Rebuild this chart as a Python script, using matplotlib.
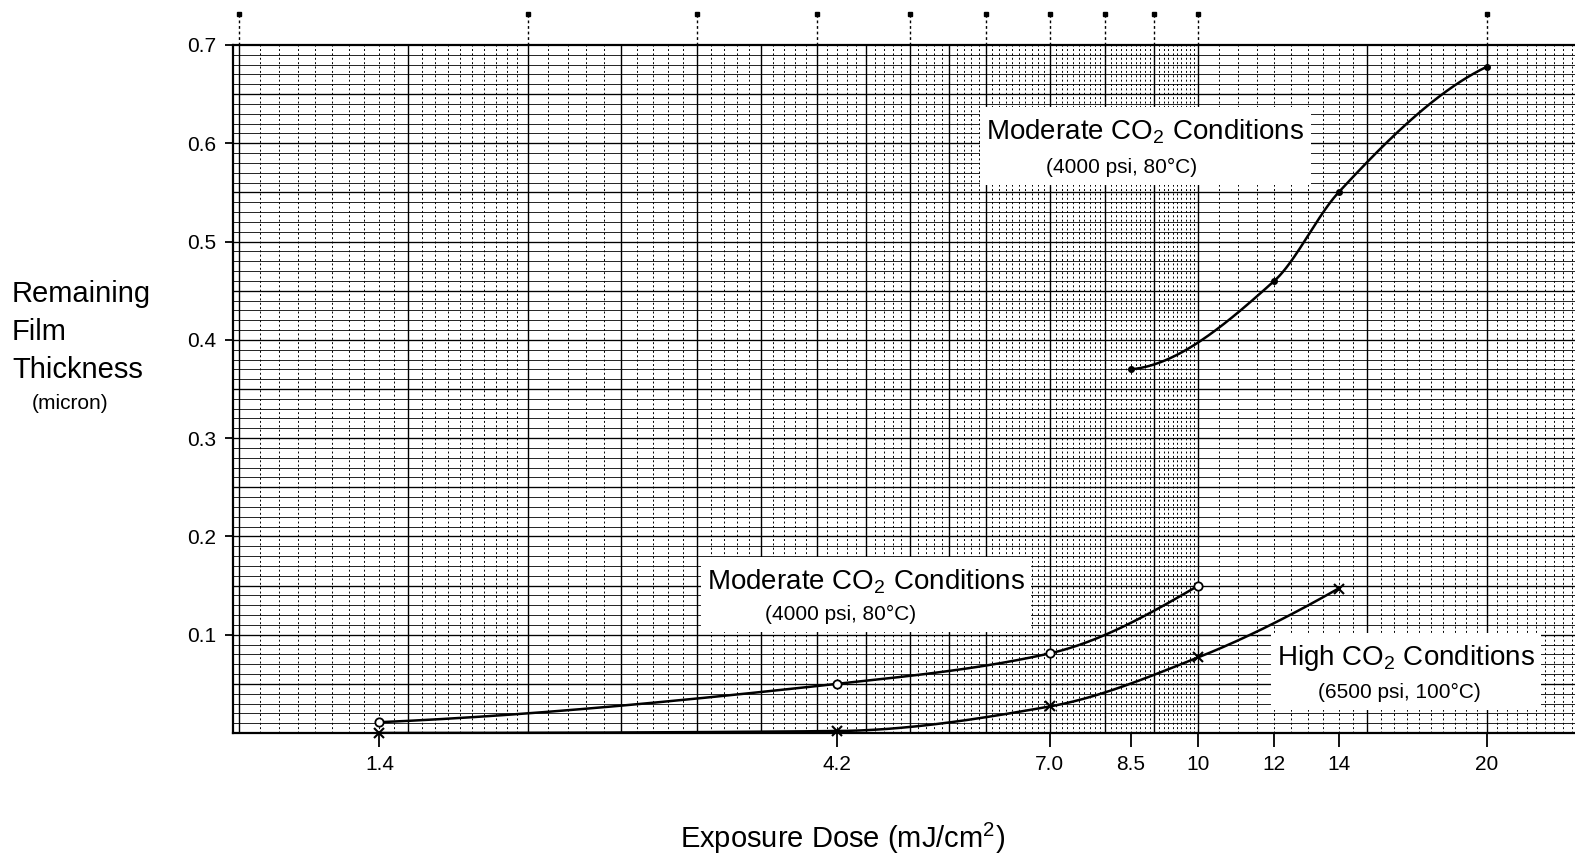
import numpy as np
import matplotlib
matplotlib.use("Agg")
import matplotlib.pyplot as plt
from matplotlib.transforms import blended_transform_factory, Bbox
from matplotlib.patches import Rectangle

plt.rcParams['font.family'] = ['Liberation Sans', 'DejaVu Sans']
plt.rcParams['mathtext.fontset'] = 'custom'
plt.rcParams['mathtext.rm'] = 'Liberation Sans'

# exposure dose (mJ/cm^2) vs remaining film thickness (micron)
mod_top_dose = [8.5, 12, 14, 20]
mod_top_thk = [0.37, 0.46, 0.55, 0.678]

mod_low_dose = [1.4, 4.2, 7.0, 10]
mod_low_thk = [0.011, 0.05, 0.081, 0.15]

high_dose = [1.4, 4.2, 7.0, 10, 14]
high_thk = [0.0, 0.002, 0.027, 0.077, 0.147]

xtick_vals = [1.4, 4.2, 7.0, 8.5, 10, 12, 14, 20]
xtick_labels = ['1.4', '4.2', '7.0', '8.5', '10', '12', '14', '20']
ytick_vals = [0.1, 0.2, 0.3, 0.4, 0.5, 0.6, 0.7]
cycle_marks = [1, 2, 3, 4, 5, 6, 7, 8, 9, 10, 20]


def smooth(xs, ys, n=300):
    # monotone cubic (pchip) through the points, in log-x
    lx = np.log10(np.asarray(xs, float))
    y = np.asarray(ys, float)
    h = np.diff(lx)
    d = np.diff(y) / h
    m = np.zeros_like(y)
    for i in range(1, len(y) - 1):
        if d[i - 1] * d[i] > 0:
            w1 = 2 * h[i] + h[i - 1]
            w2 = h[i] + 2 * h[i - 1]
            m[i] = (w1 + w2) / (w1 / d[i - 1] + w2 / d[i])
    m[0] = ((2 * h[0] + h[1]) * d[0] - h[0] * d[1]) / (h[0] + h[1])
    m[-1] = ((2 * h[-1] + h[-2]) * d[-1] - h[-1] * d[-2]) / (h[-1] + h[-2])
    if m[0] * d[0] <= 0:
        m[0] = 0
    if m[-1] * d[-1] <= 0:
        m[-1] = 0
    out_x, out_y = [], []
    t = np.linspace(0, 1, n)
    h00 = 2 * t**3 - 3 * t**2 + 1
    h10 = t**3 - 2 * t**2 + t
    h01 = -2 * t**3 + 3 * t**2
    h11 = t**3 - t**2
    for i in range(len(h)):
        yy = h00 * y[i] + h10 * h[i] * m[i] + h01 * y[i + 1] + h11 * h[i] * m[i + 1]
        out_x.append(10 ** (lx[i] + t * h[i]))
        out_y.append(yy)
    return np.concatenate(out_x), np.concatenate(out_y)


fig = plt.figure(figsize=(15.75, 8.61), dpi=100)
ax = fig.add_axes([233 / 1575, 1 - 733 / 861, (1575 - 233) / 1575, 688 / 861])
ax.set_xscale('log')
xmin, xmax = 0.985, 24.7
ax.set_xlim(xmin, xmax)
ax.set_ylim(0, 0.7)

# graph paper
hl = np.round(np.arange(0.01, 0.70, 0.01), 2)
ax.hlines(hl, xmin, xmax, colors='k', lw=0.6, zorder=1)
ax.hlines(hl[4::5], xmin, xmax, colors='k', lw=0.95, zorder=1)
minor = np.concatenate([np.arange(1.05, 2.0, 0.05), np.arange(2.1, 10.0, 0.1),
                        np.arange(10.5, xmax, 0.5)])
ax.vlines(minor, 0, 0.7, colors='k', lw=0.7, linestyles=(0, (2, 2.5)), zorder=1)
major = [1, 1.5, 2, 2.5, 3, 3.5, 4, 4.5, 5, 5.5, 6, 7, 8, 9, 10, 15, 20]
ax.vlines(major, 0, 0.7, colors='k', lw=1.0, zorder=1)

# cycle marks above the paper
trans = blended_transform_factory(ax.transData, ax.transAxes)
ax.vlines(cycle_marks, 1.0, 1.045, transform=trans, colors='k', lw=1.0,
          linestyles=(0, (2, 2)), clip_on=False)
ax.plot(cycle_marks, [1.045] * len(cycle_marks), 's', color='k', ms=2.5,
        transform=trans, clip_on=False)

# labels, each pair on one white patch
labels = [
    ((0.680, 0.874), 'Moderate CO$_2$ Conditions', (0.662, 0.822), '(4000 psi, 80°C)'),
    ((0.4716, 0.220), 'Moderate CO$_2$ Conditions', (0.4529, 0.173), '(4000 psi, 80°C)'),
    ((0.874, 0.109), 'High CO$_2$ Conditions', (0.869, 0.0596), '(6500 psi, 100°C)'),
]
pairs = []
for p1, s1, p2, s2 in labels:
    t1 = ax.text(*p1, s1, transform=ax.transAxes, ha='center', va='center',
                 fontsize=20, zorder=4)
    t2 = ax.text(*p2, s2, transform=ax.transAxes, ha='center', va='center',
                 fontsize=15, zorder=4)
    pairs.append((t1, t2))

fig.canvas.draw()
r = fig.canvas.get_renderer()
inv = ax.transAxes.inverted()
for t1, t2 in pairs:
    bb = Bbox.union([t1.get_window_extent(r), t2.get_window_extent(r)])
    bb = Bbox.from_extents(bb.x0 - 6, bb.y0 - 8, bb.x1 + 6, bb.y1 + 10)
    (ax0, ay0), (ax1, ay1) = inv.transform([[bb.x0, bb.y0], [bb.x1, bb.y1]])
    ax.add_patch(Rectangle((ax0, ay0), ax1 - ax0, ay1 - ay0, transform=ax.transAxes,
                           fc='white', ec='none', zorder=3))

# curves
sx, sy = smooth(mod_top_dose, mod_top_thk)
ax.plot(sx, sy, color='k', lw=1.8, zorder=5)
ax.plot(mod_top_dose, mod_top_thk, 'o', color='k', ms=4, zorder=6)

sx, sy = smooth(mod_low_dose, mod_low_thk)
ax.plot(sx, sy, color='k', lw=1.8, zorder=5)
ax.plot(mod_low_dose, mod_low_thk, 'o', mfc='white', mec='k', mew=1.3, ms=6, zorder=6)

sx, sy = smooth(high_dose, high_thk)
ax.plot(sx, sy, color='k', lw=1.8, zorder=5)
ax.plot(high_dose, high_thk, 'x', color='k', mew=1.5, ms=7, zorder=6, clip_on=False)

# axes
for side in ['left', 'top', 'bottom']:
    ax.spines[side].set_linewidth(1.6)
ax.spines['right'].set_visible(False)
ax.set_xticks(xtick_vals, xtick_labels)
ax.xaxis.set_minor_locator(matplotlib.ticker.NullLocator())
ax.set_yticks(ytick_vals, [f'{v:.1f}' for v in ytick_vals])
ax.tick_params(axis='x', direction='out', length=10, width=1.3, labelsize=15, pad=6)
ax.tick_params(axis='y', direction='out', length=6, width=1.3, labelsize=15, pad=6)

fig.text(12 / 1575, 1 - 294 / 861, 'Remaining', fontsize=21, va='center')
fig.text(12 / 1575, 1 - 332 / 861, 'Film', fontsize=21, va='center')
fig.text(12 / 1575, 1 - 370 / 861, 'Thickness', fontsize=21, va='center')
fig.text(32 / 1575, 1 - 404 / 861, '(micron)', fontsize=15, va='center')
fig.text(843 / 1575, 1 - 838 / 861, 'Exposure Dose (mJ/cm$^2$)', fontsize=21,
         ha='center', va='center')

fig.savefig('out.png', dpi=100, facecolor='white')
